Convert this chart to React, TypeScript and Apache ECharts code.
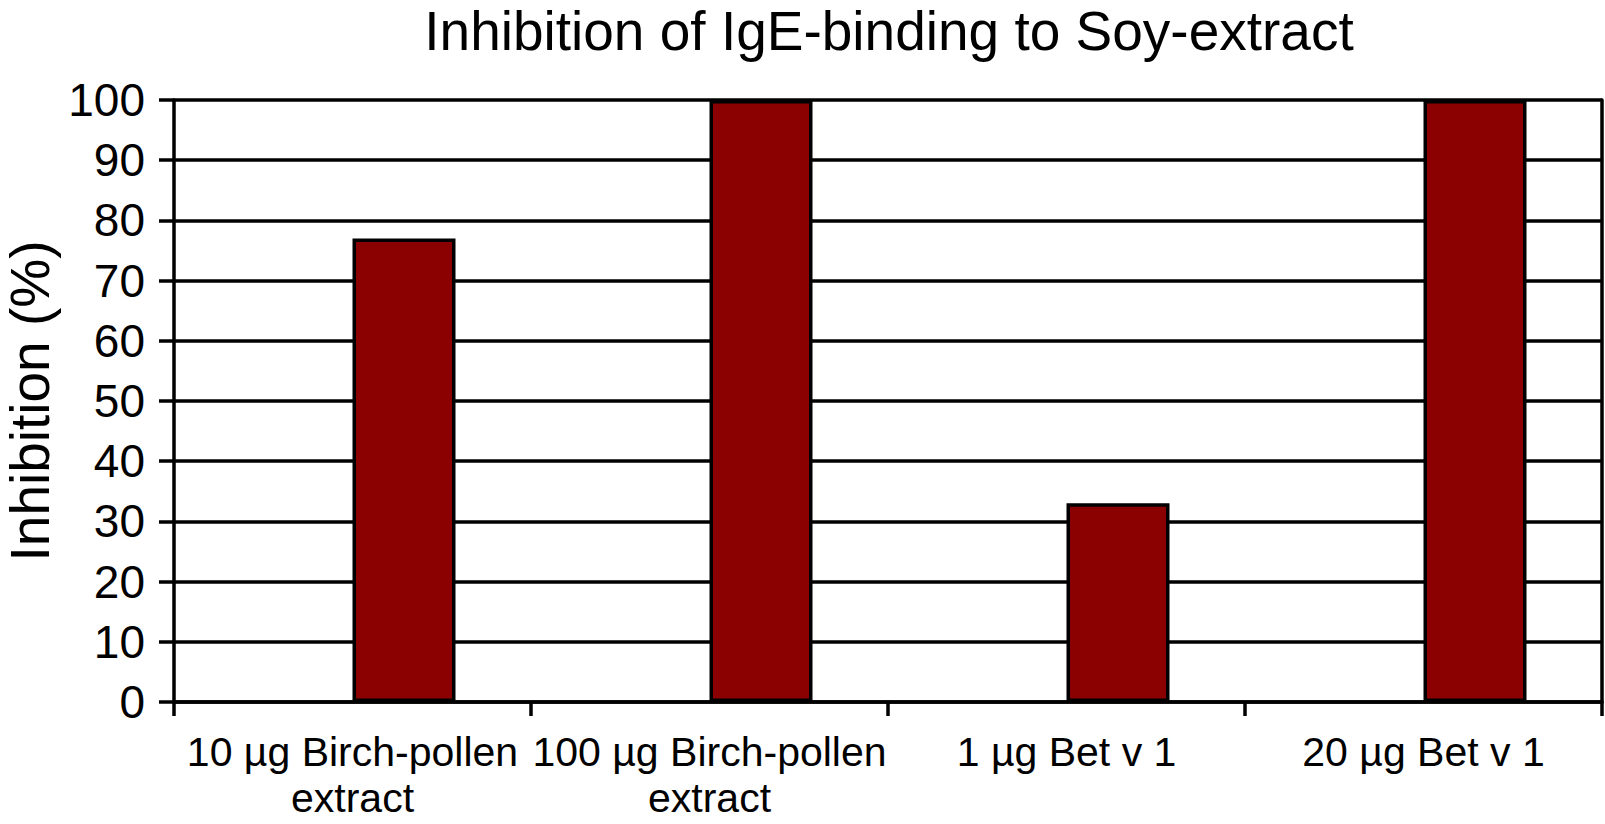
import React, { useEffect, useRef } from "react";
import * as echarts from "echarts";

const titleText = "Inhibition of IgE-binding to Soy-extract";
const categories = [
  "10 µg Birch-pollen\nextract",
  "100 µg Birch-pollen\nextract",
  "1 µg Bet v 1",
  "20 µg Bet v 1",
];
const emptySeries: (number | null)[] = [null, null, null, null];
const inhibition = [77, 100, 33, 100];
const yAxisName = "Inhibition (%)";

const FONT = "'Liberation Sans', Arial, Helvetica, sans-serif";

export default function App() {
  const ref = useRef<HTMLDivElement>(null);
  useEffect(() => {
    if (!ref.current) return;
    const chart = echarts.init(ref.current, undefined, { renderer: "svg" });
    chart.setOption({
      animation: false,
      backgroundColor: "#ffffff",
      title: {
        text: titleText,
        left: 884,
        top: -2,
        textAlign: "center",
        textStyle: {
          fontFamily: FONT,
          fontSize: 55,
          fontWeight: "normal",
          color: "#000",
          lineHeight: 55,
        },
      },
      grid: {
        left: 174,
        right: 3,
        top: 100,
        bottom: 122,
        containLabel: false,
        outerBoundsMode: "none",
      },
      xAxis: {
        type: "category",
        data: categories,
        boundaryGap: true,
        axisLine: { show: true, lineStyle: { color: "#000", width: 3.5 } },
        axisTick: { show: true, length: 14, lineStyle: { color: "#000", width: 3.5 } },
        axisLabel: {
          interval: 0,
          margin: 27,
          fontFamily: FONT,
          fontSize: 41,
          lineHeight: 46,
          color: "#000",
          align: "center",
        },
        splitLine: { show: false },
      },
      yAxis: [
        {
          type: "value",
          min: 0,
          max: 100,
          interval: 10,
          name: yAxisName,
          nameLocation: "middle",
          nameGap: 117,
          nameTextStyle: { fontFamily: FONT, fontSize: 55, color: "#000" },
          axisLine: { show: true, lineStyle: { color: "#000", width: 3.5 } },
          axisTick: { show: true, length: 15, lineStyle: { color: "#000", width: 3.5 } },
          axisLabel: { margin: 29, fontFamily: FONT, fontSize: 46, color: "#000" },
          splitLine: { show: true, lineStyle: { color: "#000", width: 3.5 } },
        },
        {
          type: "value",
          min: 0,
          max: 100,
          interval: 10,
          position: "right",
          axisLine: { show: true, lineStyle: { color: "#000", width: 3.5 } },
          axisTick: { show: false },
          axisLabel: { show: false },
          splitLine: { show: false },
        },
      ],
      series: [
        {
          name: "blank",
          type: "bar",
          data: emptySeries,
          barWidth: 103,
          barGap: "0%",
          itemStyle: { color: "#8B0000", borderColor: "#000", borderWidth: 3.5 },
        },
        {
          name: "Inhibition",
          type: "bar",
          data: inhibition,
          barWidth: 103,
          barGap: "0%",
          itemStyle: { color: "#8B0000", borderColor: "#000", borderWidth: 3.5 },
        },
      ],
    });
    return () => chart.dispose();
  }, []);
  return (
    <div
      ref={ref}
      style={{ position: "fixed", left: 0, top: 0, width: 1605, height: 824, background: "#fff" }}
    />
  );
}
